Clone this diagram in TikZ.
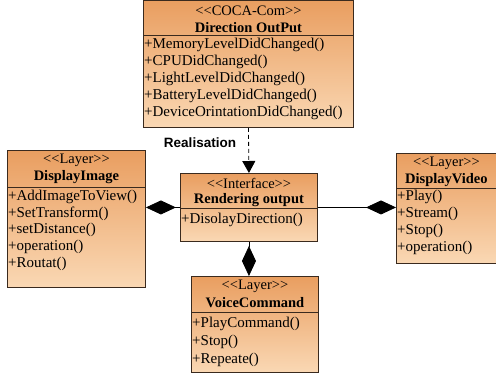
\documentclass[tikz,border=0pt]{standalone}
\usepackage{fontspec}
\setmainfont{Liberation Serif}
\newfontfamily\labelfont{Liberation Sans}
\usetikzlibrary{calc}
\usetikzlibrary{arrows.meta}
\usetikzlibrary{positioning}
\definecolor{umltop}{RGB}{233,158,96}
\definecolor{umlbottom}{RGB}{250,216,180}
\definecolor{umlline}{RGB}{58,42,30}

\begin{document}
\begin{tikzpicture}[x=1pt,y=-1pt,
			cls/.style={rectangle,draw=umlline,line width=0.9pt,top color=umltop,bottom color=umlbottom,inner sep=0pt,anchor=north west},
			stereo/.style={font=\fontsize{14.5}{16}\selectfont,inner sep=0pt},
			title/.style={font=\fontsize{14.5}{16}\selectfont\bfseries,inner sep=0pt},
			op/.style={font=\fontsize{15}{17}\selectfont,anchor=west,inner sep=1pt},
			divider/.style={draw=umlline,line width=0.9pt},
			comp/.style={line width=0.8pt,-{Diamond[length=30pt,width=14pt]}},
			real/.style={line width=0.8pt,dash pattern=on 4pt off 3pt,-{Triangle[length=12pt,width=13pt]}},
			]

			\useasboundingbox (0,0) rectangle (496,377);

			%Direction OutPut
			\node[cls,minimum width=210pt,minimum height=127pt] (output) at (143,0) {};
			\node[stereo] (outputS) at ($(output.north)+(0,11)$) {<{}<COCA-Com>{}>};
			\node[title] (outputT) at ($(output.north)+(0,28)$) {Direction OutPut};
			\draw[divider] ($(output.north west)+(0,35)$) -- ($(output.north east)+(0,35)$);
			\foreach \m [count=\i] in {MemoryLevelDidChanged(),CPUDidChanged(),LightLevelDidChanged(),BatteryLevelDidChanged(),DeviceOrintationDidChanged()}
			{
				\node[op] (output-\i) at ($(output.north west)+(0,{45+(\i-1)*17})$) {+\m};
			}

			%Rendering output
			\node[cls,minimum width=137pt,minimum height=68pt] (iface) at (180,173) {};
			\node[stereo] (ifaceS) at ($(iface.north)+(0,10)$) {<{}<Interface>{}>};
			\node[title] (ifaceT) at ($(iface.north)+(0,27)$) {Rendering output};
			\draw[divider] ($(iface.north west)+(0,35)$) -- ($(iface.north east)+(0,35)$);
			\node[op] (iface-1) at ($(iface.north west)+(0,47)$) {+DisolayDirection()};

			%DisplayImage
			\node[cls,minimum width=138pt,minimum height=137pt] (image) at (7,150) {};
			\node[stereo] (imageS) at ($(image.north)+(0,10)$) {<{}<Layer>{}>};
			\node[title] (imageT) at ($(image.north)+(0,27)$) {DisplayImage};
			\draw[divider] ($(image.north west)+(0,37)$) -- ($(image.north east)+(0,37)$);
			\foreach \m [count=\i] in {AddImageToView(),SetTransform(),setDistance(),operation(),Routat()}
			{
				\node[op] (image-\i) at ($(image.north west)+(0,{47+(\i-1)*16.6})$) {+\m};
			}

			%DisplayVideo
			\node[cls,minimum width=100pt,minimum height=110pt] (video) at (396,153) {};
			\node[stereo] (videoS) at ($(video.north)+(0,10)$) {<{}<Layer>{}>};
			\node[title] (videoT) at ($(video.north)+(0,27)$) {DisplayVideo};
			\draw[divider] ($(video.north west)+(0,35)$) -- ($(video.north east)+(0,35)$);
			\foreach \m [count=\i] in {Play(),Stream(),Stop(),operation()}
			{
				\node[op] (video-\i) at ($(video.north west)+(0,{44+(\i-1)*17})$) {+\m};
			}

			%VoiceCommand
			\node[cls,minimum width=127pt,minimum height=96pt] (voice) at (191,276) {};
			\node[stereo] (voiceS) at ($(voice.north)+(0,10)$) {<{}<Layer>{}>};
			\node[title] (voiceT) at ($(voice.north)+(0,27)$) {VoiceCommand};
			\draw[divider] ($(voice.north west)+(0,36)$) -- ($(voice.north east)+(0,36)$);
			\foreach \m [count=\i] in {PlayCommand(),Stop(),Repeate()}
			{
				\node[op] (voice-\i) at ($(voice.north west)+(0,{48+(\i-1)*18})$) {+\m};
			}

			%connectors
			\draw[real] (output.south) -- (iface.north);
			\node[font=\labelfont\bfseries\fontsize{13.5}{15}\selectfont,inner sep=0pt] (reallbl) at (200,143) {Realisation};
			\draw[comp] (iface.west) -- (image.east |- iface.west);
			\draw[comp] (iface.east) -- (video.west |- iface.east);
			\draw[comp] (iface.south) -- (iface.south |- voice.north);

\end{tikzpicture}
\end{document}
